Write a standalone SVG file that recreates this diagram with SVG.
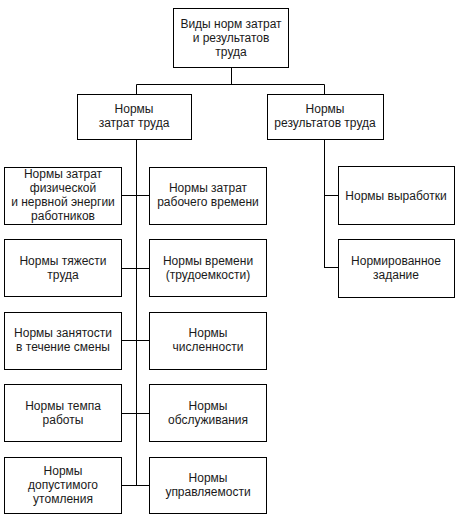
<svg xmlns="http://www.w3.org/2000/svg" width="458" height="520" viewBox="0 0 458 520">
<style>
rect{fill:#fff;stroke:#000;stroke-width:1}
.c line,.c path{stroke:#000;stroke-width:1;fill:none}
text{font-family:"Liberation Sans",Arial,sans-serif;font-size:12px;fill:#1a1a1a;text-anchor:middle}
</style>
<rect x="0" y="0" width="458" height="520" style="stroke:none"/>
<g class="c" id="connectors">
<line x1="231.5" y1="67" x2="231.5" y2="84.5"/>
<line x1="136.5" y1="84.5" x2="324.5" y2="84.5"/>
<line x1="136.5" y1="84.5" x2="136.5" y2="94"/>
<line x1="324.5" y1="84.5" x2="324.5" y2="94"/>
<line x1="136.5" y1="139" x2="136.5" y2="486"/>
<line x1="121" y1="195.5" x2="149" y2="195.5"/>
<line x1="121" y1="268.5" x2="149" y2="268.5"/>
<line x1="121" y1="340.5" x2="149" y2="340.5"/>
<line x1="121" y1="413.5" x2="149" y2="413.5"/>
<line x1="121" y1="485.5" x2="149" y2="485.5"/>
<line x1="324.5" y1="139" x2="324.5" y2="268"/>
<line x1="324" y1="195.5" x2="338" y2="195.5"/>
<line x1="324" y1="267.5" x2="338" y2="267.5"/>
</g>
<g id="n_top"><rect x="173.5" y="8.5" width="115" height="59"/>
<text x="231" y="28">Виды норм затрат</text><text x="231" y="42">и результатов</text><text x="231" y="56">труда</text></g>
<g id="n_zatrat"><rect x="77.5" y="94.5" width="114" height="45"/>
<text x="134" y="113">Нормы</text><text x="134" y="127">затрат труда</text></g>
<g id="n_rez"><rect x="267.5" y="94.5" width="116" height="45"/>
<text x="325" y="113">Нормы</text><text x="325" y="127">результатов труда</text></g>
<g id="n_l1"><rect x="4.5" y="167.5" width="117" height="57"/>
<text x="63" y="178">Нормы затрат</text><text x="63" y="192">физической</text><text x="63" y="206">и нервной энергии</text><text x="63" y="220">работников</text></g>
<g id="n_l2"><rect x="4.5" y="239.5" width="117" height="57"/>
<text x="63" y="265">Нормы тяжести</text><text x="63" y="279">труда</text></g>
<g id="n_l3"><rect x="4.5" y="312.5" width="117" height="57"/>
<text x="63" y="337">Нормы занятости</text><text x="63" y="351">в течение смены</text></g>
<g id="n_l4"><rect x="4.5" y="384.5" width="117" height="57"/>
<text x="63" y="410">Нормы темпа</text><text x="63" y="424">работы</text></g>
<g id="n_l5"><rect x="4.5" y="457.5" width="117" height="56"/>
<text x="63" y="475">Нормы</text><text x="63" y="489">допустимого</text><text x="63" y="503">утомления</text></g>
<g id="n_r1"><rect x="149.5" y="167.5" width="117" height="57"/>
<text x="208" y="192">Нормы затрат</text><text x="208" y="206">рабочего времени</text></g>
<g id="n_r2"><rect x="149.5" y="239.5" width="117" height="57"/>
<text x="208" y="265">Нормы времени</text><text x="208" y="279">(трудоемкости)</text></g>
<g id="n_r3"><rect x="149.5" y="312.5" width="117" height="57"/>
<text x="208" y="337">Нормы</text><text x="208" y="351">численности</text></g>
<g id="n_r4"><rect x="149.5" y="384.5" width="117" height="57"/>
<text x="208" y="410">Нормы</text><text x="208" y="424">обслуживания</text></g>
<g id="n_r5"><rect x="149.5" y="457.5" width="117" height="56"/>
<text x="208" y="482">Нормы</text><text x="208" y="496">управляемости</text></g>
<g id="n_vyr"><rect x="338.5" y="166.5" width="116" height="58"/>
<text x="396" y="200">Нормы выработки</text></g>
<g id="n_zad"><rect x="338.5" y="239.5" width="116" height="58"/>
<text x="396" y="265">Нормированное</text><text x="396" y="279">задание</text></g>
</svg>
